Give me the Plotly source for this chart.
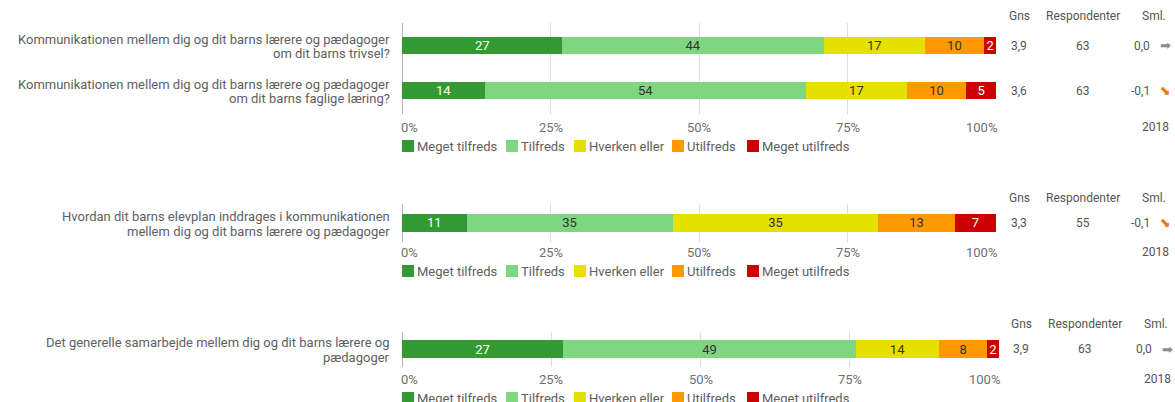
import plotly.graph_objects as go

W, H = 1175, 402

# ---- data -------------------------------------------------------------
questions = [
    "Kommunikationen mellem dig og dit barns lærere og pædagoger\nom dit barns trivsel?",
    "Kommunikationen mellem dig og dit barns lærere og pædagoger\nom dit barns faglige læring?",
    "Hvordan dit barns elevplan inddrages i kommunikationen\nmellem dig og dit barns lærere og pædagoger",
    "Det generelle samarbejde mellem dig og dit barns lærere og\npædagoger",
]
panel_of_question = [0, 0, 1, 2]

levels = ["Meget tilfreds", "Tilfreds", "Hverken eller", "Utilfreds", "Meget utilfreds"]

meget_tilfreds = [27, 14, 11, 27]
tilfreds = [44, 54, 35, 49]
hverken_eller = [17, 17, 35, 14]
utilfreds = [10, 10, 13, 8]
meget_utilfreds = [2, 5, 7, 2]

gns = [3.9, 3.6, 3.3, 3.9]
respondenter = [63, 63, 55, 63]
sml = [0.0, -0.1, -0.1, 0.0]
comparison_year = "2018"

stat_headers = ["Gns", "Respondenter", "Sml."]
tick_values = [0, 25, 50, 75, 100]
tick_labels = ["0%", "25%", "50%", "75%", "100%"]

# ---- styling ----------------------------------------------------------
shares = [meget_tilfreds, tilfreds, hverken_eller, utilfreds, meget_utilfreds]
level_colors = ["#339933", "#80d680", "#e6e000", "#ff9900", "#cc0000"]
level_text_colors = ["#ffffff", "#333333", "#333333", "#333333", "#ffffff"]

FONT = "Roboto, Arial, sans-serif"
LABEL_COLOR = "#606060"
TICK_COLOR = "#707070"
STAT_COLOR = "#555555"

# pixel layout of each block (top-origin pixel coordinates)
panels = [
    dict(x0=402, x1=996, y0=23, y1=113.5, bar_width=0.38, head_y=16, tick_y=127,
         legend_y=146, line_gap=14.2, dx=0),
    dict(x0=402, x1=996, y0=204, y1=241.5, bar_width=0.47, head_y=198, tick_y=252,
         legend_y=271, line_gap=15.5, dx=0),
    dict(x0=402, x1=999, y0=331.5, y1=366.7, bar_width=0.50, head_y=324, tick_y=379,
         legend_y=398, line_gap=14.8, dx=2),
]
legend_item_x = [402, 506, 574, 672, 747]
col_gns_x, col_resp_x, col_sml_x = 1019, 1083, 1154
sml_value_right_x, sml_arrow_x = 1152, 1165


def px(x):
    return x / W


def py(y):
    return 1 - y / H


fig = go.Figure()
annotations = []
shapes = []

for p, cfg in enumerate(panels):
    sfx = "" if p == 0 else str(p + 1)
    xa, ya = "x" + sfx, "y" + sfx
    qs = [i for i, pp in enumerate(panel_of_question) if pp == p]
    cats = [questions[i] for i in qs]

    # stacked bars
    for li, name in enumerate(levels):
        vals = [shares[li][i] for i in qs]
        fig.add_trace(go.Bar(
            x=vals, y=cats, orientation="h", name=name,
            xaxis=xa, yaxis=ya,
            marker=dict(color=level_colors[li], line=dict(width=0)),
            width=cfg["bar_width"],
            text=[str(v) for v in vals],
            textposition="inside", insidetextanchor="middle", textangle=0,
            textfont=dict(family=FONT, size=13, color=level_text_colors[li]),
            showlegend=False, hoverinfo="skip",
        ))

    n = len(cats)
    fig.update_layout(**{
        "xaxis" + sfx: dict(
            domain=[px(cfg["x0"]), px(cfg["x1"])], anchor=ya, range=[0, 100],
            tickvals=tick_values, showticklabels=False, ticks="",
            showgrid=True, gridcolor="#dddddd", gridwidth=1,
            zeroline=True, zerolinecolor="#b5b5b5", zerolinewidth=1,
            showline=False, fixedrange=True,
        ),
        "yaxis" + sfx: dict(
            domain=[py(cfg["y1"]), py(cfg["y0"])], anchor=xa,
            type="category", categoryorder="array", categoryarray=cats,
            range=[n - 0.5, -0.5], showticklabels=False, ticks="",
            showgrid=False, zeroline=False, showline=False, fixedrange=True,
        ),
    })

    # question labels, one annotation per line so line spacing stays tight
    for c in cats:
        lines = c.split("\n")
        for k, line in enumerate(lines):
            off = 1 + (k - (len(lines) - 1) / 2) * cfg["line_gap"]
            annotations.append(dict(
                text=line, xref="paper", x=px(392), xanchor="right",
                yref=ya, y=c, yanchor="middle", yshift=-off,
                showarrow=False, font=dict(family=FONT, size=13, color=LABEL_COLOR),
            ))

    # percent tick labels along the axis
    for v, lab in zip(tick_values, tick_labels):
        anchor = "left" if v == tick_values[0] else ("right" if v == tick_values[-1] else "center")
        shift = -3 if anchor == "left" else (3 if anchor == "right" else 0)
        annotations.append(dict(
            text=lab, xref=xa, x=v, xanchor=anchor, xshift=shift,
            yref="paper", y=py(cfg["tick_y"]), yanchor="middle",
            showarrow=False, font=dict(family=FONT, size=13, color=TICK_COLOR),
        ))

    # legend row below each block
    for li, name in enumerate(levels):
        lx = legend_item_x[li]
        ly = cfg["legend_y"]
        shapes.append(dict(
            type="rect", xref="paper", yref="paper",
            x0=px(lx), x1=px(lx + 12), y0=py(ly + 6), y1=py(ly - 6),
            fillcolor=level_colors[li], line=dict(width=0),
        ))
        annotations.append(dict(
            text=name, xref="paper", x=px(lx + 13), xanchor="left",
            yref="paper", y=py(ly), yanchor="middle",
            showarrow=False, font=dict(family=FONT, size=13, color=LABEL_COLOR),
        ))

    # statistics columns
    dx = cfg["dx"]
    for hx, head in zip([col_gns_x, col_resp_x, col_sml_x], stat_headers):
        annotations.append(dict(
            text=head, xref="paper", x=px(hx + dx), xanchor="center",
            yref="paper", y=py(cfg["head_y"]), yanchor="middle",
            showarrow=False, font=dict(family=FONT, size=12, color=STAT_COLOR),
        ))
    for c, i in zip(cats, qs):
        stat_font = dict(family=FONT, size=12, color=STAT_COLOR)
        annotations.append(dict(
            text=f"{gns[i]:.1f}".replace(".", ","), xref="paper", x=px(col_gns_x + dx),
            xanchor="center", yref=ya, y=c, yanchor="middle", showarrow=False, font=stat_font,
        ))
        annotations.append(dict(
            text=str(respondenter[i]), xref="paper", x=px(col_resp_x + dx),
            xanchor="center", yref=ya, y=c, yanchor="middle", showarrow=False, font=stat_font,
        ))
        annotations.append(dict(
            text=f"{sml[i]:.1f}".replace(".", ","), xref="paper", x=px(sml_value_right_x + dx),
            xanchor="right", yref=ya, y=c, yanchor="middle", showarrow=False, font=stat_font,
        ))
        # trend arrow: heavy arrow glyph, tilted by the direction of change
        if sml[i] < 0:
            angle, acol = 45, "#e8780c"
        elif sml[i] > 0:
            angle, acol = -45, "#339933"
        else:
            angle, acol = 0, "#8c8c8c"
        annotations.append(dict(
            text="\u27A1", xref="paper", x=px(sml_arrow_x + dx), xanchor="center",
            yref=ya, y=c, yanchor="middle", showarrow=False, textangle=angle,
            font=dict(family="DejaVu Sans", size=13, color=acol),
        ))
    annotations.append(dict(
        text=comparison_year, xref="paper", x=px(col_sml_x + 1 + dx), xanchor="center",
        yref="paper", y=py(cfg["tick_y"]), yanchor="middle",
        showarrow=False, font=dict(family=FONT, size=12, color=STAT_COLOR),
    ))

fig.update_layout(
    width=W, height=H,
    margin=dict(l=0, r=0, t=0, b=0),
    paper_bgcolor="white", plot_bgcolor="white",
    barmode="stack", barnorm="percent",
    uniformtext=dict(minsize=13, mode="show"),
    font=dict(family=FONT, size=13, color=LABEL_COLOR),
    annotations=annotations, shapes=shapes,
    showlegend=False,
)

fig.write_html("out.html", config={"displayModeBar": False})
